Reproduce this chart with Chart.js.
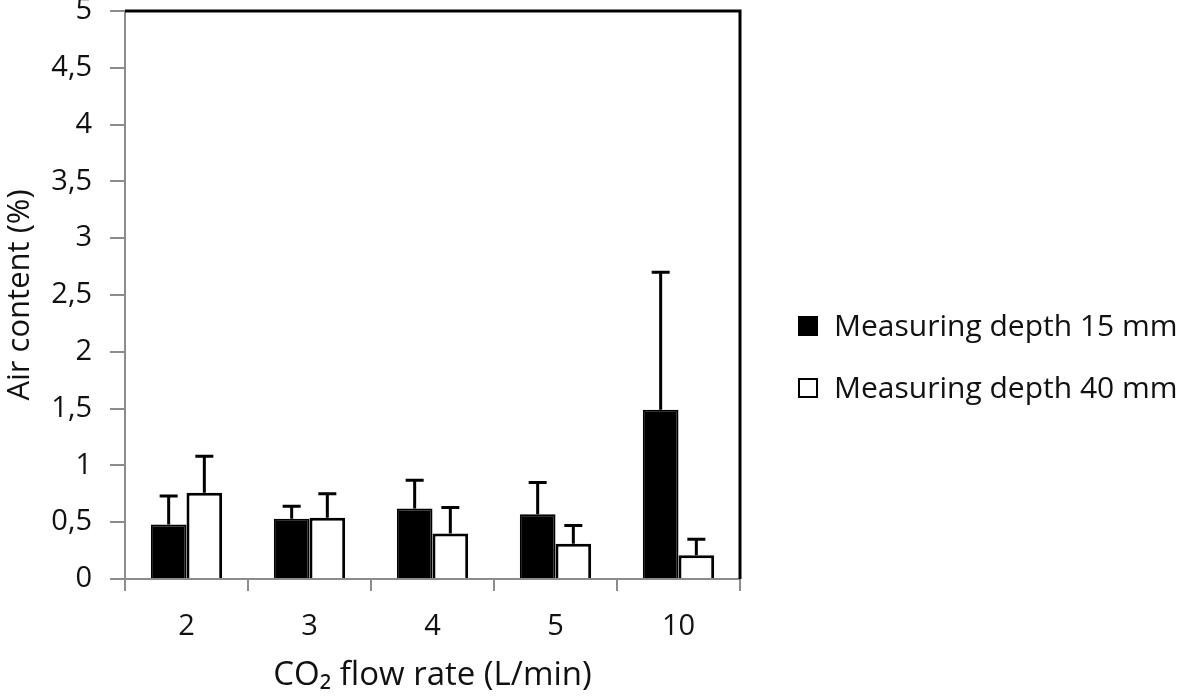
<!DOCTYPE html>
<html>
<head>
<meta charset="utf-8">
<script src="https://cdn.jsdelivr.net/npm/chart.js@4"></script>
<style>
  html, body { margin: 0; padding: 0; background: #ffffff; }
  canvas { display: block; }
</style>
</head>
<body>
<canvas id="airChart" width="1181" height="700"></canvas>
<script>
// values
const flowRates = ["2", "3", "4", "5", "10"];
const depth15 = [0.48, 0.53, 0.62, 0.57, 1.49];
const depth15Err = [0.25, 0.11, 0.25, 0.28, 1.21];
const depth40 = [0.76, 0.54, 0.40, 0.31, 0.21];
const depth40Err = [0.32, 0.21, 0.23, 0.16, 0.14];
const yTicks = [0, 0.5, 1, 1.5, 2, 2.5, 3, 3.5, 4, 4.5, 5];

const FONT = "'Open Sans', 'DejaVu Sans', sans-serif";
const TEXT = "#111111";
const AXIS = "#8c8c8c";

// error bars (upper only) drawn from each bar top
const errorBars = {
    id: "errorBars",
    afterDatasetsDraw(chart) {
        const ctx = chart.ctx;
        const yScale = chart.scales.y;
        ctx.save();
        ctx.strokeStyle = "#000";
        ctx.lineWidth = 3;
        chart.data.datasets.forEach((ds, i) => {
            const meta = chart.getDatasetMeta(i);
            meta.data.forEach((bar, j) => {
                const top = yScale.getPixelForValue(ds.data[j] + ds.errors[j]);
                ctx.beginPath();
                ctx.moveTo(bar.x, bar.y);
                ctx.lineTo(bar.x, top);
                ctx.moveTo(bar.x - 9, top);
                ctx.lineTo(bar.x + 9, top);
                ctx.stroke();
            });
        });
        ctx.restore();
    },
};

// black frame on top and right of plot area
const frame = {
    id: "frame",
    afterDraw(chart) {
        const { ctx, chartArea } = chart;
        ctx.save();
        ctx.strokeStyle = "#000";
        ctx.lineWidth = 3;
        ctx.beginPath();
        ctx.moveTo(chartArea.left, chartArea.top);
        ctx.lineTo(chartArea.right, chartArea.top);
        ctx.lineTo(chartArea.right, chartArea.bottom);
        ctx.stroke();
        ctx.restore();
    },
};

// legend on the right, squares + labels
const sideLegend = {
    id: "sideLegend",
    afterDraw(chart) {
        const ctx = chart.ctx;
        const rows = [326, 388];
        ctx.save();
        ctx.font = "30px " + FONT;
        ctx.textBaseline = "middle";
        ctx.textAlign = "left";
        chart.data.datasets.forEach((ds, i) => {
            const y = rows[i];
            ctx.fillStyle = ds.backgroundColor;
            ctx.fillRect(799, y - 9, 18, 18);
            ctx.strokeStyle = "#000";
            ctx.lineWidth = 2;
            ctx.strokeRect(799, y - 9, 18, 18);
            ctx.fillStyle = TEXT;
            ctx.fillText(ds.label, 834, y + 1);
        });
        ctx.restore();
    },
};

const ctx = document.getElementById("airChart").getContext("2d");
new Chart(ctx, {
    type: "bar",
    data: {
        labels: flowRates,
        datasets: [
            {
                label: "Measuring depth 15 mm",
                data: depth15,
                errors: depth15Err,
                backgroundColor: "#000000",
                borderColor: "#000000",
                borderWidth: 2,
            },
            {
                label: "Measuring depth 40 mm",
                data: depth40,
                errors: depth40Err,
                backgroundColor: "#ffffff",
                borderColor: "#000000",
                borderWidth: 3,
            },
        ],
    },
    options: {
        responsive: false,
        animation: false,
        devicePixelRatio: 1,
        categoryPercentage: 0.58,
        barPercentage: 1,
        layout: { padding: { top: 11, right: 441, left: 0, bottom: 0 } },
        plugins: {
            legend: { display: false },
            tooltip: { enabled: false },
        },
        scales: {
            x: {
                grid: {
                    drawOnChartArea: false,
                    offset: true,
                    tickLength: 12,
                    color: AXIS,
                    lineWidth: 2,
                },
                border: { color: AXIS, width: 2 },
                ticks: {
                    color: TEXT,
                    padding: 18,
                    font: { family: FONT, size: 29 },
                },
                title: {
                    display: true,
                    text: "CO₂ flow rate (L/min)",
                    color: TEXT,
                    font: { family: FONT, size: 33 },
                    padding: { top: 0, bottom: 5 },
                },
                afterFit(scale) {
                    scale.height = 121;
                    scale.paddingLeft = 0;
                    scale.paddingRight = 0;
                },
            },
            y: {
                min: 0,
                max: 5,
                afterBuildTicks(scale) {
                    scale.ticks = yTicks.map((v) => ({ value: v }));
                },
                grid: {
                    drawOnChartArea: false,
                    tickLength: 15,
                    color: AXIS,
                    lineWidth: 2,
                },
                border: { color: AXIS, width: 2 },
                ticks: {
                    color: TEXT,
                    padding: 18,
                    font: { family: FONT, size: 29 },
                    callback: (v) => String(v).replace(".", ","),
                },
                title: {
                    display: true,
                    text: "Air content (%)",
                    color: TEXT,
                    font: { family: FONT, size: 31 },
                    padding: { top: 2, bottom: 0 },
                },
                afterFit(scale) {
                    scale.width = 125;
                    scale.paddingTop = 0;
                    scale.paddingBottom = 0;
                },
            },
        },
    },
    plugins: [errorBars, frame, sideLegend],
});
</script>
</body>
</html>
